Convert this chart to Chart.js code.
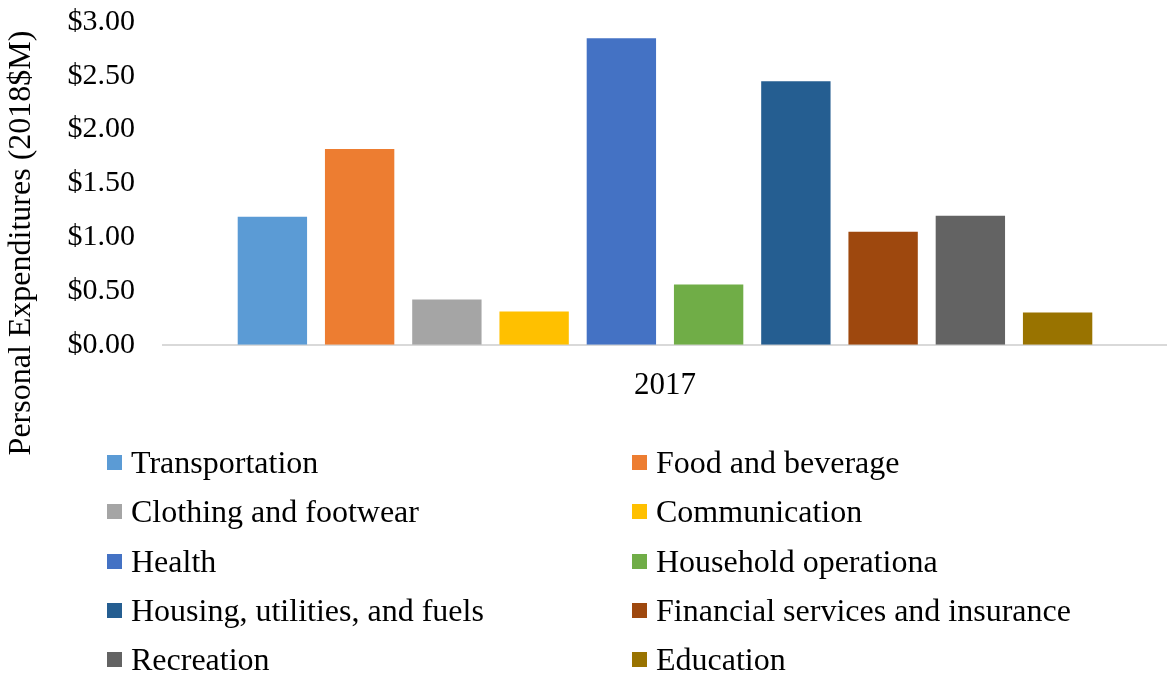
<!DOCTYPE html>
<html>
<head>
<meta charset="utf-8">
<title>Personal Expenditures 2017</title>
<script src="https://cdn.jsdelivr.net/npm/chart.js@4.4.1/dist/chart.umd.min.js"></script>
<style>
  html, body { margin: 0; padding: 0; background: #ffffff; }
  #wrap { position: relative; width: 1167px; height: 675px; overflow: hidden; }
  #chart { position: absolute; left: 0; top: 0; }
  #legend {
    position: absolute; left: 107px; top: 438px;
    display: grid; grid-template-columns: 525px 525px;
    grid-auto-rows: 49.3px;
    font-family: "Liberation Serif", "Times New Roman", serif;
    font-size: 32px; color: #000;
  }
  .item { display: flex; align-items: center; white-space: nowrap; }
  .swatch { width: 15px; height: 15px; margin-right: 9px; flex: none; }
</style>
</head>
<body>
<div id="wrap">
  <canvas id="chart" width="1167" height="675"></canvas>
  <div id="legend"></div>
</div>
<script>
// Year shown on the category axis
const categories = ['2017'];

// Spending categories, in plotting order
const seriesNames = [
  'Transportation',
  'Food and beverage',
  'Clothing and footwear',
  'Communication',
  'Health',
  'Household operationa',
  'Housing, utilities, and fuels',
  'Financial services and insurance',
  'Recreation',
  'Education'
];

// Personal expenditures, millions of 2018 dollars
const seriesValues = [1.19, 1.82, 0.42, 0.31, 2.85, 0.56, 2.45, 1.05, 1.20, 0.30];

const seriesColors = [
  '#5B9BD5', '#ED7D31', '#A5A5A5', '#FFC000', '#4472C4',
  '#70AD47', '#255E91', '#9E480E', '#636363', '#997300'
];

// Value axis ticks
const yTicks = [0, 0.5, 1.0, 1.5, 2.0, 2.5, 3.0];
const yTitle = 'Personal Expenditures (2018$M)';

const FONT = '"Liberation Serif", "Times New Roman", serif';

const datasets = seriesNames.map((name, i) => ({
  label: name,
  data: [seriesValues[i]],
  backgroundColor: seriesColors[i],
  borderWidth: 0,
  categoryPercentage: 0.869,
  barPercentage: 0.795
}));

// Rotated value-axis title, placed to the left of the tick labels
const axisTitle = {
  id: 'axisTitle',
  afterDraw(chart) {
    const ctx = chart.ctx;
    ctx.save();
    ctx.translate(22, 243);
    ctx.rotate(-Math.PI / 2);
    ctx.font = '32px ' + FONT;
    ctx.fillStyle = '#000';
    ctx.textAlign = 'center';
    ctx.textBaseline = 'middle';
    ctx.fillText(yTitle, 0, 0);
    ctx.restore();
  }
};

const chart = new Chart(document.getElementById('chart'), {
  type: 'bar',
  data: { labels: categories, datasets },
  plugins: [axisTitle],
  options: {
    responsive: false,
    animation: false,
    layout: { padding: { top: 22, right: -9, bottom: 249, left: 0 } },
    plugins: {
      legend: { display: false },
      tooltip: { enabled: false }
    },
    scales: {
      x: {
        grid: { display: false, drawTicks: false },
        border: { display: true, color: '#d9d9d9', width: 2 },
        ticks: { color: '#000', font: { family: FONT, size: 31 }, padding: 22 }
      },
      y: {
        min: 0,
        max: 3,
        afterFit(scale) {
          scale.width = 163;
          scale.paddingTop = 0;
          scale.paddingBottom = 0;
        },
        afterBuildTicks(scale) { scale.ticks = yTicks.map(v => ({ value: v })); },
        grid: { display: false, drawTicks: false },
        border: { display: false },
        ticks: {
          color: '#000',
          font: { family: FONT, size: 30 },
          padding: 28,
          callback: (v) => '$' + Number(v).toFixed(2)
        }
      }
    }
  }
});

// Two-column legend built from the chart's own legend items
const legendEl = document.getElementById('legend');
const items = chart.options.plugins.legend.labels.generateLabels(chart);
items.forEach(it => {
  const row = document.createElement('div');
  row.className = 'item';
  const sw = document.createElement('span');
  sw.className = 'swatch';
  sw.style.background = it.fillStyle;
  const tx = document.createElement('span');
  tx.textContent = it.text;
  row.appendChild(sw);
  row.appendChild(tx);
  legendEl.appendChild(row);
});
</script>
</body>
</html>
